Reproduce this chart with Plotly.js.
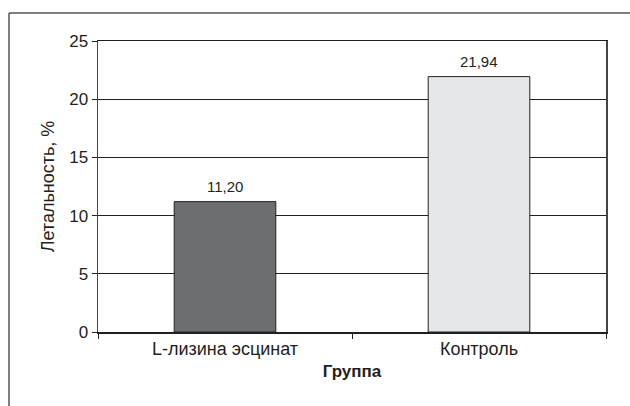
<!DOCTYPE html>
<html>
<head>
<meta charset="utf-8">
<script src="https://cdn.plot.ly/plotly-3.0.1.min.js"></script>
<style>html,body{margin:0;padding:0;background:#fff}#chart{width:630px;height:406px}</style>
</head>
<body>
<div id="chart"></div>
<script>
const categories = ["L-лизина эсцинат", "Контроль"];
const lethality = [11.20, 21.94];
const valueLabels = ["11,20", "21,94"];
const barColors = ["#6d6e71", "#e6e7e8"];
const yTicks = [0, 5, 10, 15, 20, 25];

const W = 630, H = 406;
const m = {l: 98, r: 24, t: 41, b: 74};
const pw = W - m.l - m.r, ph = H - m.t - m.b;
// outer frame position (pixels) converted to paper coords
const fx = (9 - m.l) / pw, fy = (H - m.b - 13) / ph;

const trace = {
  type: "bar",
  x: categories,
  y: lethality,
  marker: {color: barColors, line: {color: "#231f20", width: 1}},
  width: 0.4,
  hoverinfo: "none"
};

const annotations = categories.map((c, i) => ({
  x: c, y: lethality[i], xref: "x", yref: "y",
  text: valueLabels[i], showarrow: false,
  yanchor: "bottom", yshift: 5,
  font: {family: "Liberation Sans, Arial, sans-serif", size: 15, color: "#231f20"}
}));

const layout = {
  width: W, height: H,
  margin: m,
  paper_bgcolor: "#fff", plot_bgcolor: "#fff",
  showlegend: false,
  font: {family: "Liberation Sans, Arial, sans-serif", size: 16, color: "#231f20"},
  xaxis: {
    type: "category",
    tickson: "boundaries",
    ticks: "outside", ticklen: 5, tickcolor: "#231f20", tickwidth: 1,
    showline: true, linecolor: "#231f20", linewidth: 1.5, mirror: true,
    showgrid: false,
    tickfont: {size: 18},
    title: {text: "<b>Группа</b>", font: {size: 17}, standoff: 7}
  },
  yaxis: {
    range: [0, 25],
    tickvals: yTicks,
    ticks: "outside", ticklen: 5, tickcolor: "#231f20", tickwidth: 1,
    showline: true, linecolor: "#444", linewidth: 1.5, mirror: true,
    showgrid: true, gridcolor: "#231f20", gridwidth: 1,
    zeroline: false,
    tickfont: {size: 17},
    title: {text: "Летальность, %", font: {size: 18}, standoff: 10}
  },
  annotations: annotations,
  shapes: [
    {type: "line", xref: "paper", yref: "paper", x0: fx, x1: 2, y0: fy, y1: fy, line: {color: "#555", width: 1.5}},
    {type: "line", xref: "paper", yref: "paper", x0: fx, x1: fx, y0: fy, y1: -2, line: {color: "#555", width: 1.5}}
  ]
};

Plotly.newPlot("chart", [trace], layout, {displayModeBar: false, staticPlot: true});
</script>
</body>
</html>
